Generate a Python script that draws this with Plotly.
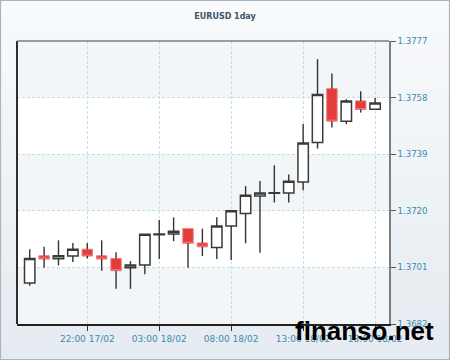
import plotly.graph_objects as go
import pandas as pd

# ---- data ----
times = pd.date_range("2014-02-17 18:00", periods=25, freq="h")
open_ = [1.36958, 1.37049, 1.37039, 1.37048, 1.37071, 1.37049, 1.37040, 1.37009, 1.37018, 1.37120,
         1.37122, 1.37140, 1.37092, 1.37077, 1.37149, 1.37191, 1.37250, 1.37259, 1.37260, 1.37297,
         1.37429, 1.37610, 1.37501, 1.37569, 1.37541]
close = [1.37040, 1.37038, 1.37049, 1.37071, 1.37048, 1.37038, 1.36999, 1.37018, 1.37121, 1.37122,
         1.37131, 1.37091, 1.37079, 1.37149, 1.37200, 1.37252, 1.37260, 1.37261, 1.37299, 1.37428,
         1.37590, 1.37501, 1.37569, 1.37540, 1.37562]
high = [1.37071, 1.37079, 1.37101, 1.37092, 1.37092, 1.37101, 1.37061, 1.37031, 1.37121, 1.37169,
        1.37178, 1.37140, 1.37140, 1.37178, 1.37200, 1.37283, 1.37300, 1.37353, 1.37322, 1.37491,
        1.37709, 1.37661, 1.37575, 1.37601, 1.37579]
low = [1.36948, 1.37009, 1.37017, 1.37028, 1.37040, 1.36999, 1.36938, 1.36938, 1.36987, 1.37038,
       1.37098, 1.37009, 1.37048, 1.37038, 1.37035, 1.37091, 1.37059, 1.37228, 1.37228, 1.37269,
       1.37409, 1.37480, 1.37491, 1.37530, 1.37541]

x_tick_vals = ["2014-02-17 22:00", "2014-02-18 03:00", "2014-02-18 08:00",
               "2014-02-18 13:00", "2014-02-18 18:00"]
x_tick_text = ["22:00 17/02", "03:00 18/02", "08:00 18/02", "13:00 18/02", "18:00 18/02"]
y_ticks = [1.3682, 1.3701, 1.3720, 1.3739, 1.3758, 1.3777]
y_tick_text = ["%.4f" % v for v in y_ticks]
title_text = "EURUSD 1day"
watermark = "finanso.net"

# ---- build figure ----
body_top = [max(o, c) for o, c in zip(open_, close)]
body_bot = [min(o, c) for o, c in zip(open_, close)]

wx, wy = [], []
for t, h, l, bt, bb in zip(times, high, low, body_top, body_bot):
    wx += [t, t, None, t, t, None]
    wy += [bt, h, None, l, bb, None]

fig = go.Figure()
fig.add_trace(go.Scatter(x=wx, y=wy, mode="lines", line=dict(color="#333333", width=1.4),
                         hoverinfo="skip", showlegend=False))
fig.add_trace(go.Candlestick(
    x=times, open=open_, close=close, high=body_top, low=body_bot,
    increasing=dict(fillcolor="#ffffff", line=dict(color="#3a3a3a", width=1.5)),
    decreasing=dict(fillcolor="#e43b3b", line=dict(color="#f07878", width=1)),
    whiskerwidth=0, showlegend=False))

W, H = 450, 360
L, R, T, B = 17, 61, 41, 36
pw, ph = W - L - R, H - T - B

def px_x(p):
    return (p - L) / pw

def px_y(p):
    return (H - B - p) / ph

shapes = []
# background gradient
n = 24
top_c = (248, 250, 252)
bot_c = (229, 235, 240)
for i in range(n):
    f = i / (n - 1)
    col = "rgb(%d,%d,%d)" % tuple(round(a + (b - a) * f) for a, b in zip(top_c, bot_c))
    shapes.append(dict(type="rect", xref="paper", yref="paper", layer="below",
                       x0=px_x(0), x1=px_x(W), y0=px_y(H * i / n), y1=px_y(H * (i + 1) / n),
                       fillcolor=col, line=dict(width=0)))
# outer border
shapes.append(dict(type="rect", xref="paper", yref="paper", layer="below",
                   x0=px_x(0.5), x1=px_x(W - 0.5), y0=px_y(H - 0.5), y1=px_y(0.5),
                   line=dict(color="#a9b4be", width=1.2)))
# plot area bands
shapes.append(dict(type="rect", xref="x domain", yref="y domain", layer="below",
                   x0=0, x1=1, y0=0, y1=1, fillcolor="#f3f6f8", line=dict(width=0)))
for a, b in [(y_ticks[1], y_ticks[2]), (y_ticks[3], y_ticks[4])]:
    shapes.append(dict(type="rect", xref="x domain", yref="y", layer="below",
                       x0=0, x1=1, y0=a, y1=b, fillcolor="#ffffff", line=dict(width=0)))
# left and top frame lines
shapes.append(dict(type="line", xref="x domain", yref="y domain", layer="above",
                   x0=0, x1=0, y0=0, y1=1, line=dict(color="#2e2e2e", width=2)))
shapes.append(dict(type="line", xref="x domain", yref="y domain", layer="above",
                   x0=0, x1=1, y0=1, y1=1, line=dict(color="#7d7d7d", width=1.5)))

grid = dict(showgrid=True, gridcolor="#c2e0ea", gridwidth=1, griddash="3px,2px")

fig.update_layout(
    width=W, height=H, autosize=False,
    margin=dict(l=L, r=R, t=T, b=B, pad=0),
    paper_bgcolor="#f2f5f8", plot_bgcolor="rgba(0,0,0,0)",
    boxgap=0.15, boxgroupgap=0.15,
    font=dict(family="DejaVu Sans", size=9, color="#3a8ab0"),
    title=dict(text="<b>%s</b>" % title_text, x=0.5, xref="container", xanchor="center",
               y=1 - 16 / H, yref="container", yanchor="middle",
               font=dict(family="DejaVu Sans", size=8, color="#3d5566")),
    xaxis=dict(type="date", range=["2014-02-17 17:07", "2014-02-18 18:58"],
               tickvals=x_tick_vals, ticktext=x_tick_text,
               ticks="outside", ticklen=5, tickcolor="#333333", tickwidth=1,
               showline=True, linecolor="#222222", linewidth=2, zeroline=False,
               tickfont=dict(family="DejaVu Sans", size=9, color="#3a8ab0"),
               rangeslider=dict(visible=False), fixedrange=True, **grid),
    yaxis=dict(side="right", range=[y_ticks[0], y_ticks[-1]],
               tickvals=y_ticks, ticktext=y_tick_text,
               ticks="outside", ticklen=5, tickcolor="#555555", tickwidth=1,
               showline=True, linecolor="#7d7d7d", linewidth=1.5, zeroline=False,
               tickfont=dict(family="DejaVu Sans", size=8.6, color="#3a8ab0"),
               fixedrange=True, **grid),
    shapes=shapes,
    annotations=[dict(text="<b>%s</b>" % watermark, xref="paper", yref="paper",
                      x=px_x(436), xanchor="right", y=px_y(331), yanchor="middle",
                      showarrow=False,
                      font=dict(family="Liberation Sans", size=26, color="#000000"))],
    showlegend=False,
)

fig.write_html("out.html")
